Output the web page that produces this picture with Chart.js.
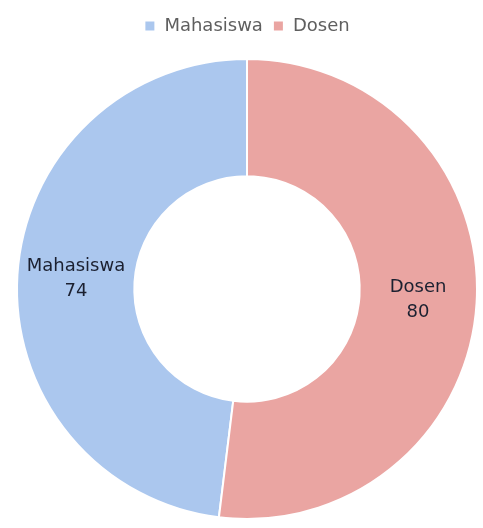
<!DOCTYPE html>
<html>
<head>
<meta charset="utf-8">
<script src="https://cdn.jsdelivr.net/npm/chart.js@4"></script>
<style>
  html, body { margin: 0; padding: 0; background: #fff; }
  #wrap { width: 483px; height: 528px; }
</style>
</head>
<body>
<div id="wrap"><canvas id="donut" width="483" height="528"></canvas></div>
<script>
// chart data
const categories = ['Mahasiswa', 'Dosen'];
const values = [74, 80];
const sliceColors = ['#abc7ee', '#eaa5a2'];

const total = values.reduce((a, b) => a + b, 0);

// push the chart area down a little below the legend
const legendGap = {
    id: 'legendGap',
    beforeInit(chart) {
        const fit = chart.legend.fit;
        chart.legend.fit = function () {
            fit.bind(chart.legend)();
            this.height += 11;
        };
    }
};

// category name + value in the middle of each slice
const sliceLabels = {
    id: 'sliceLabels',
    afterDatasetsDraw(chart) {
        const ctx = chart.ctx;
        const meta = chart.getDatasetMeta(0);
        ctx.save();
        ctx.font = '18px "DejaVu Sans"';
        ctx.fillStyle = '#1b2030';
        ctx.textAlign = 'center';
        ctx.textBaseline = 'middle';
        meta.data.forEach((arc, i) => {
            const p = arc.getCenterPoint();
            ctx.fillText(chart.data.labels[i], p.x, p.y - 12.5);
            ctx.fillText(String(chart.data.datasets[0].data[i]), p.x, p.y + 12.5);
        });
        ctx.restore();
    }
};

const config = {
    type: 'doughnut',
    data: {
        labels: categories,
        datasets: [{
            data: values,
            backgroundColor: sliceColors,
            borderColor: '#ffffff',
            borderWidth: 2
        }]
    },
    options: {
        responsive: false,
        animation: false,
        cutout: '49%',
        rotation: -(values[0] / total) * 360, // Mahasiswa sits on the left
        layout: {
            padding: { top: 7, bottom: 6, left: 16, right: 5 }
        },
        plugins: {
            legend: {
                position: 'top',
                labels: {
                    boxWidth: 11,
                    boxHeight: 11,
                    padding: 10,
                    color: '#5f5f5f',
                    font: { family: '"DejaVu Sans"', size: 18 }
                }
            },
            tooltip: { enabled: false }
        }
    },
    plugins: [legendGap, sliceLabels]
};

const ctx = document.getElementById('donut').getContext('2d');
const donutChart = new Chart(ctx, config);
</script>
</body>
</html>
